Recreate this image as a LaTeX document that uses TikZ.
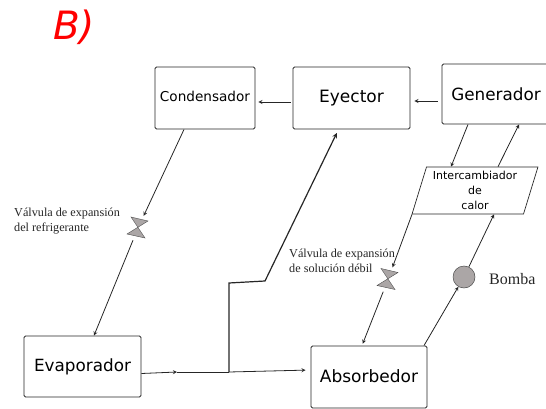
\documentclass[tikz,border=0pt]{standalone}
\usepackage{fontspec}
\setmainfont{DejaVu Sans}
\newfontfamily\serifrm{Liberation Serif}
\usepackage{xcolor}
\usetikzlibrary{shapes.geometric}
\definecolor{valvegray}{HTML}{ABA6A6}
\tikzset{
        box/.style={draw=black!85, line width=0.9pt, rounded corners=1.5pt, inner sep=0pt, align=center},
        conn/.style={-stealth, draw=black!85, line width=0.8pt},
        valve/.style={minimum width=24pt, minimum height=24pt, inner sep=0pt, path picture={
                \draw[fill=valvegray, draw=black!70, line width=0.4pt, shift={(path picture bounding box.center)}]
                        (-7,-11) -- (10,-7) -- (-11,6) -- (7,10) -- cycle;}},
        note/.style={font=\serifrm\fontsize{12.2}{15}\selectfont, text=black!85, align=left, inner sep=0pt}
}
\begin{document}
\begin{tikzpicture}[x=1pt, y=-1pt]
        \useasboundingbox (0,0) rectangle (546,409);
        \node[text=red, font=\fontsize{39}{40}\selectfont\itshape, inner sep=0pt] at (74, 27) (title) {B)};
        \node[box, minimum width=100pt, minimum height=62pt, text depth=4pt, font=\fontsize{13.6}{16}\selectfont] at (205, 98) (cond) {Condensador};
        \node[box, minimum width=117pt, minimum height=62pt, font=\fontsize{17}{19}\selectfont] at (351.5, 98) (eye) {Eyector};
        \node[box, minimum width=108pt, minimum height=60pt, font=\fontsize{16.8}{19}\selectfont] at (496, 94) (gen) {Generador};
        \node[box, minimum width=117pt, minimum height=61pt, font=\fontsize{16.8}{19}\selectfont] at (82.5, 366.5) (evap) {Evaporador};
        \node[box, minimum width=116pt, minimum height=62pt, text depth=2pt, font=\fontsize{17}{19}\selectfont] at (369, 377) (abs) {Absorbedor};
        \node[trapezium, trapezium left angle=72, trapezium right angle=108, trapezium stretches=true, draw=black!85, line width=0.7pt,
                minimum width=126pt, minimum height=47pt, inner sep=0pt, align=center, font=\fontsize{11}{15}\selectfont] at (475, 190.5) (inter) {Intercambiador\\de\\calor};
        \node[valve] at (138, 228) (valveA) {};
        \node[valve] at (388, 279.5) (valveB) {};
        \node[circle, draw=black!70, fill=valvegray, minimum size=22pt, inner sep=0pt, line width=0.5pt] at (464, 277) (pump) {};
        \node[note, anchor=west] at (14, 221) (noteA) {Válvula de expansión\\del refrigerante};
        \node[note, anchor=west] at (289, 261) (noteB) {Válvula de expansión\\de solución débil};
        \node[note, anchor=west, font=\serifrm\fontsize{16}{18}\selectfont] at (489, 279) (pumplabel) {Bomba};
        \coordinate (mid) at (177, 372);
        \coordinate (junc) at (229, 372);
        \coordinate (upa) at (229, 283);
        \coordinate (upb) at (265, 281);
        \draw[conn, shorten <=4pt, shorten >=4pt] ([yshift=-7pt]gen.west) -- ([yshift=-3pt]eye.east);
        \draw[conn, shorten <=2pt, shorten >=3pt] ([yshift=-4pt]eye.west) -- ([yshift=-4pt]cond.east);
        \draw[conn] ([xshift=-21pt]cond.south) -- (valveA);
        \draw[conn] (valveA) -- ([xshift=11.5pt]evap.north);
        \draw[conn] ([yshift=-7pt]evap.east) -- (mid);
        \draw[conn, -] (mid) -- (junc);
        \draw[conn, shorten >=5pt] (junc) -- ([yshift=7pt]abs.west);
        \draw[conn, line width=1.2pt, shorten >=4pt] (junc) -- (upa) -- (upb) -- ([xshift=-13pt]eye.south);
        \draw[conn] ([xshift=-28pt]gen.south) -- ([xshift=-24pt]inter.north);
        \draw[conn] ([xshift=23pt]inter.north) -- ([xshift=23pt]gen.south);
        \draw[conn] ([xshift=-63pt]inter.south) -- (valveB);
        \draw[conn, shorten >=2pt] (valveB) -- ([xshift=-7pt]abs.north);
        \draw[conn] ([xshift=55pt]abs.north) -- (pump);
        \draw[conn] (pump) -- ([xshift=19pt]inter.south);
\end{tikzpicture}
\end{document}
